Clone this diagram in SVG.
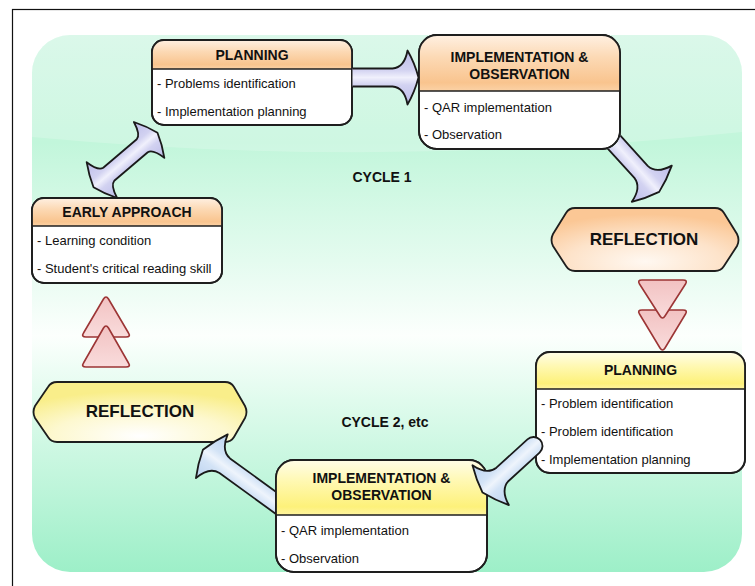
<svg xmlns="http://www.w3.org/2000/svg" width="755" height="586" viewBox="0 0 755 586">
<defs>
<style>
.ttl{font-family:"Liberation Sans",Arial,sans-serif;font-weight:bold;font-size:14px;fill:#111;text-anchor:middle}
.big{font-family:"Liberation Sans",Arial,sans-serif;font-weight:bold;font-size:17px;fill:#111;text-anchor:middle}
.itm{font-family:"Liberation Sans",Arial,sans-serif;font-size:13px;fill:#111}
.box{fill:#fff;stroke:#1e1e1e;stroke-width:1.8}
.edge{fill:none;stroke:#1e1e1e;stroke-width:1.8}
.div{stroke:#1e1e1e;stroke-width:1.5}
.hex{stroke:#1e1e1e;stroke-width:1.8}
.tri{fill:url(#tri);stroke:#9c3535;stroke-width:1.6}
.arL{fill:url(#arL);stroke:#1a1a1a;stroke-width:1.8;stroke-linejoin:round}
.arB{fill:url(#arB);stroke:#1a1a1a;stroke-width:1.8;stroke-linejoin:round}
</style>
<linearGradient id="bg" x1="0" y1="0" x2="0" y2="1">
<stop offset="0" stop-color="#d2f7e5"/>
<stop offset="0.2" stop-color="#c2f6db"/>
<stop offset="0.42" stop-color="#e4fbef"/>
<stop offset="0.56" stop-color="#fcfffd"/>
<stop offset="0.68" stop-color="#e0fbed"/>
<stop offset="1" stop-color="#9defc8"/>
</linearGradient>
<linearGradient id="hdrO" x1="0" y1="0" x2="0" y2="1">
<stop offset="0" stop-color="#fff0e2"/>
<stop offset="0.4" stop-color="#fcd9b4"/>
<stop offset="0.85" stop-color="#f9c48e"/>
<stop offset="1" stop-color="#fbd2a6"/>
</linearGradient>
<linearGradient id="hdrY" x1="0" y1="0" x2="0" y2="1">
<stop offset="0" stop-color="#fffde8"/>
<stop offset="0.4" stop-color="#fff8b0"/>
<stop offset="0.85" stop-color="#fdf17a"/>
<stop offset="1" stop-color="#fff5a0"/>
</linearGradient>
<radialGradient id="hexO" cx="0.5" cy="0.85" r="0.75">
<stop offset="0" stop-color="#fff8f1"/>
<stop offset="0.55" stop-color="#fde3ca"/>
<stop offset="1" stop-color="#fbc795"/>
</radialGradient>
<radialGradient id="hexY" cx="0.5" cy="0.9" r="0.75">
<stop offset="0" stop-color="#ffffff"/>
<stop offset="0.55" stop-color="#fdf8cf"/>
<stop offset="1" stop-color="#f9ee8a"/>
</radialGradient>
<linearGradient id="arL" x1="0" y1="0" x2="0" y2="1">
<stop offset="0" stop-color="#bcbce9"/>
<stop offset="0.36" stop-color="#d2d2f1"/>
<stop offset="0.5" stop-color="#f0f0fc"/>
<stop offset="0.64" stop-color="#d2d2f1"/>
<stop offset="1" stop-color="#bcbce9"/>
</linearGradient>
<linearGradient id="arB" x1="0" y1="0" x2="0" y2="1">
<stop offset="0" stop-color="#bcd3f0"/>
<stop offset="0.36" stop-color="#d3e3f6"/>
<stop offset="0.5" stop-color="#eef4fc"/>
<stop offset="0.64" stop-color="#d3e3f6"/>
<stop offset="1" stop-color="#bcd3f0"/>
</linearGradient>
<linearGradient id="tri" x1="0" y1="0" x2="0" y2="1">
<stop offset="0" stop-color="#f2c2c2"/>
<stop offset="1" stop-color="#f9dcdc"/>
</linearGradient>
<clipPath id="cutC">
<path clip-rule="evenodd" d="M0,0 H755 V586 H0 Z M418,54 A19,19 0 0 1 437,34 H602 A19,19 0 0 1 621,53 V131 A19,19 0 0 1 602,150 H437 A19,19 0 0 1 418,131 Z"/>
</clipPath>
<clipPath id="cutE">
<rect x="0" y="0" width="275" height="586"/>
</clipPath>
</defs>

<rect x="0" y="0" width="755" height="586" fill="#fff"/>
<rect x="12.5" y="9.5" width="760" height="600" fill="#fff" stroke="#111" stroke-width="1.2"/>

<g id="background">
<rect x="32" y="35" width="710" height="537" rx="38" fill="url(#bg)"/>
<path d="M32,137 Q380,170 742,132 V73 A38,38 0 0 0 704,35 H70 A38,38 0 0 0 32,73 Z" fill="#fff" opacity="0.2"/>
</g>

<g id="planning1">
<rect class="box" x="152" y="40" width="200" height="85" rx="12"/>
<path d="M152,69 V52 A12,12 0 0 1 164,40 H340 A12,12 0 0 1 352,52 V69 Z" fill="url(#hdrO)"/>
<line class="div" x1="152" y1="69" x2="352" y2="69"/>
<rect class="edge" x="152" y="40" width="200" height="85" rx="12"/>
<text class="ttl" x="252" y="60">PLANNING</text>
<text class="itm" x="157" y="88">- Problems identification</text>
<text class="itm" x="157" y="116">- Implementation planning</text>
</g>

<g id="implementation1">
<rect class="box" x="419" y="35" width="201" height="114" rx="18"/>
<path d="M419,91 V53 A18,18 0 0 1 437,35 H602 A18,18 0 0 1 620,53 V91 Z" fill="url(#hdrO)"/>
<line class="div" x1="419" y1="91" x2="620" y2="91"/>
<rect class="edge" x="419" y="35" width="201" height="114" rx="18"/>
<text class="ttl" x="519.5" y="62">IMPLEMENTATION &amp;</text>
<text class="ttl" x="519.5" y="79">OBSERVATION</text>
<text class="itm" x="424" y="112">- QAR implementation</text>
<text class="itm" x="424" y="139">- Observation</text>
</g>

<g id="reflection1">
<path class="hex" fill="url(#hexO)" d="M553,234 L566,213 Q569,208 575,208 H715 Q721,208 724,213 L737,234 Q740,240 737,246 L724,266 Q721,271 715,271 H575 Q569,271 566,266 L553,246 Q550,240 553,234 Z"/>
<text class="big" x="644" y="245">REFLECTION</text>
</g>

<g id="transition-down">
<path class="tri" d="M642,310 H683 Q688,310 685.5,314 L665,348 Q662.5,352 660,348 L639.5,314 Q637,310 642,310 Z"/>
<path class="tri" d="M642,280 H683 Q688,280 685.5,284 L665,316 Q662.5,320 660,316 L639.5,284 Q637,280 642,280 Z"/>
</g>

<g id="planning2">
<rect class="box" x="536" y="352" width="209" height="121" rx="14"/>
<path d="M536,389 V366 A14,14 0 0 1 550,352 H731 A14,14 0 0 1 745,366 V389 Z" fill="url(#hdrY)"/>
<line class="div" x1="536" y1="389" x2="745" y2="389"/>
<rect class="edge" x="536" y="352" width="209" height="121" rx="14"/>
<text class="ttl" x="640.5" y="375">PLANNING</text>
<text class="itm" x="541" y="408">- Problem identification</text>
<text class="itm" x="541" y="436">- Problem identification</text>
<text class="itm" x="541" y="464">- Implementation planning</text>
</g>

<g id="implementation2">
<rect class="box" x="276" y="460" width="211" height="112" rx="18"/>
<path d="M276,515 V478 A18,18 0 0 1 294,460 H469 A18,18 0 0 1 487,478 V515 Z" fill="url(#hdrY)"/>
<line class="div" x1="276" y1="515" x2="487" y2="515"/>
<rect class="edge" x="276" y="460" width="211" height="112" rx="18"/>
<text class="ttl" x="381.5" y="483">IMPLEMENTATION &amp;</text>
<text class="ttl" x="381.5" y="500">OBSERVATION</text>
<text class="itm" x="281" y="535">- QAR implementation</text>
<text class="itm" x="281" y="563">- Observation</text>
</g>

<g id="reflection2">
<path class="hex" fill="url(#hexY)" d="M35,406 L48,387 Q51,382 57,382 H225 Q231,382 234,387 L245,406 Q248,412 245,418 L234,437 Q231,442 225,442 H57 Q51,442 48,437 L35,418 Q32,412 35,406 Z"/>
<text class="big" x="140" y="417">REFLECTION</text>
</g>

<g id="transition-up">
<path class="tri" d="M86,337 H126 Q131,337 128.5,333 L108.5,299 Q106,295 103.5,299 L83.5,333 Q81,337 86,337 Z"/>
<path class="tri" d="M86,367 H126 Q131,367 128.5,363 L108.5,328 Q106,324 103.5,328 L83.5,363 Q81,367 86,367 Z"/>
</g>

<g id="early-approach">
<rect class="box" x="32" y="198" width="190" height="85" rx="12"/>
<path d="M32,226 V210 A12,12 0 0 1 44,198 H210 A12,12 0 0 1 222,210 V226 Z" fill="url(#hdrO)"/>
<line class="div" x1="32" y1="226" x2="222" y2="226"/>
<rect class="edge" x="32" y="198" width="190" height="85" rx="12"/>
<text class="ttl" x="127" y="217">EARLY APPROACH</text>
<text class="itm" x="37" y="245">- Learning condition</text>
<text class="itm" x="37" y="273">- Student's critical reading skill</text>
</g>

<g id="labels">
<text class="ttl" x="382" y="182">CYCLE 1</text>
<text class="ttl" x="385" y="427">CYCLE 2, etc</text>
</g>

<g id="connectors">
<path class="arL" transform="translate(125.5,160) rotate(-40.4)" d="M-22,-8.5 L22,-8.5 Q28,-9.5 31,-23.5 Q38,-12 42,0 Q38,12 31,23.5 Q28,9.5 22,8.5 L-22,8.5 Q-28,9.5 -31,23.5 Q-38,12 -42,0 Q-38,-12 -31,-23.5 Q-28,-9.5 -22,-8.5 Z"/>
<path class="arL" transform="translate(352.5,77.5)" d="M0,9 L40,9 Q52,10 55,27 Q62,15 66,0 Q62,-15 55,-27 Q52,-10 40,-9 L0,-9"/>
<g clip-path="url(#cutC)">
<path class="arL" transform="translate(613.5,141.5) rotate(47.8)" d="M0,9 L41,9 Q53,10 57,27 Q64,14 68,0 Q64,-14 57,-27 Q53,-10 41,-9 L0,-9 A9,9 0 0 0 0,9 Z"/>
</g>
<path class="arB" transform="translate(533.5,446) rotate(137.6)" d="M0,9 L42,9 Q54,10 58,27 Q65,14 69,0 Q65,-14 58,-27 Q54,-10 42,-9 L0,-9 A9,9 0 0 0 0,9 Z"/>
<g clip-path="url(#cutE)">
<path class="arB" transform="translate(283,508) rotate(-144)" d="M0,9 L72,9 Q84,10 88,27 Q95,14 99,0 Q95,-14 88,-27 Q84,-10 72,-9 L0,-9 A9,9 0 0 0 0,9 Z"/>
</g>
</g>
</svg>
